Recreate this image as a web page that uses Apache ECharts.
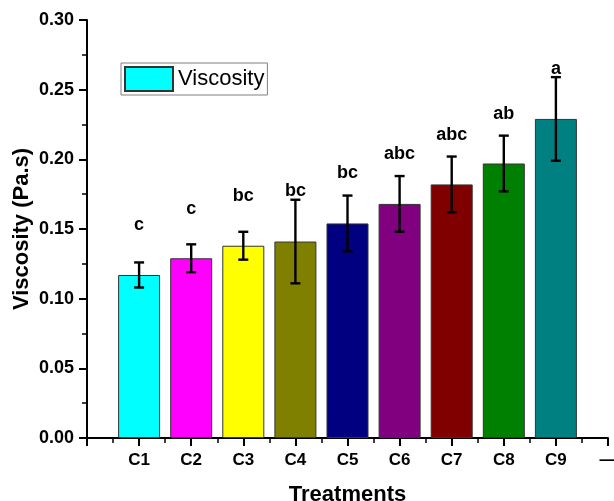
<!DOCTYPE html>
<html>
<head>
<meta charset="utf-8">
<script src="https://cdn.jsdelivr.net/npm/echarts@6/dist/echarts.min.js"></script>
<style>
  html, body { margin: 0; padding: 0; background: #fff; }
  #chart { width: 614px; height: 501px; }
</style>
</head>
<body>
<div id="chart"></div>
<script>
// Treatments and their mean viscosity (Pa.s) with standard deviations
const treatments = ['C1', 'C2', 'C3', 'C4', 'C5', 'C6', 'C7', 'C8', 'C9'];
const viscosity = [0.117, 0.129, 0.138, 0.141, 0.154, 0.168, 0.182, 0.197, 0.229];
const stdDev = [0.009, 0.010, 0.010, 0.030, 0.020, 0.020, 0.020, 0.020, 0.030];
// Significance letters and the height (in Pa.s) at which each is written
const groupLetters = ['c', 'c', 'bc', 'bc', 'bc', 'abc', 'abc', 'ab', 'a'];
const letterHeight = [0.153, 0.1645, 0.174, 0.177, 0.190, 0.204, 0.2177, 0.2328, 0.2649];
const barColors = ['#00FFFF', '#FF00FF', '#FFFF00', '#808000', '#000080', '#800080', '#800000', '#008000', '#008080'];
const yTicks = [0, 0.05, 0.10, 0.15, 0.20, 0.25, 0.30];
const endLabel = '\u2014';

const FONT = '"Liberation Sans", Arial, sans-serif';

const chart = echarts.init(document.getElementById('chart'));

const barData = viscosity.map((v, i) => ({
  value: [i + 1, v],
  itemStyle: { color: barColors[i] }
}));
const errData = viscosity.map((v, i) => [i + 1, v - stdDev[i], v + stdDev[i]]);
const letterData = groupLetters.map((t, i) => [i + 1, letterHeight[i], t]);

chart.setOption({
  animation: false,
  backgroundColor: '#fff',
  grid: { left: 87, right: 6, top: 20, bottom: 63, containLabel: false, outerBoundsMode: 'none' },
  legend: {
    left: 121, top: 63,
    orient: 'vertical',
    itemWidth: 48, itemHeight: 24,
    padding: [3, 3, 3, 3],
    borderColor: '#808080', borderWidth: 1,
    icon: 'rect',
    textStyle: { fontFamily: FONT, fontSize: 22, color: '#000' },
    data: ['Viscosity']
  },
  xAxis: {
    type: 'value',
    min: 0, max: 10, interval: 1,
    name: 'Treatments',
    nameLocation: 'middle',
    nameGap: 46,
    nameMoveOverlap: false,
    nameTextStyle: { fontFamily: FONT, fontSize: 22, fontWeight: 'bold', color: '#000' },
    axisLine: { show: true, lineStyle: { color: '#000', width: 2 } },
    axisTick: { show: true, length: 8, lineStyle: { color: '#000', width: 2 } },
    minorTick: { show: true, splitNumber: 2, length: 5, lineStyle: { color: '#000', width: 1.5 } },
    splitLine: { show: false },
    axisLabel: {
      margin: 14,
      fontFamily: FONT, fontSize: 17, fontWeight: 'bold', color: '#000',
      showMaxLabel: true, showMinLabel: true,
      formatter: v => {
        const k = Math.round(v);
        if (k >= 1 && k <= treatments.length) return treatments[k - 1];
        if (k === treatments.length + 1) return endLabel;
        return '';
      }
    }
  },
  yAxis: {
    type: 'value',
    min: yTicks[0], max: yTicks[yTicks.length - 1], interval: 0.05,
    name: 'Viscosity (Pa.s)',
    nameLocation: 'middle',
    nameGap: 54,
    nameMoveOverlap: false,
    nameTextStyle: { fontFamily: FONT, fontSize: 22, fontWeight: 'bold', color: '#000' },
    axisLine: { show: true, lineStyle: { color: '#000', width: 2 } },
    axisTick: { show: true, length: 8, lineStyle: { color: '#000', width: 2 } },
    minorTick: { show: true, splitNumber: 2, length: 5, lineStyle: { color: '#000', width: 1.5 } },
    splitLine: { show: false },
    axisLabel: {
      margin: 13,
      fontFamily: FONT, fontSize: 18, fontWeight: 'bold', color: '#000',
      formatter: v => v.toFixed(2)
    }
  },
  series: [
    {
      name: 'Viscosity',
      type: 'bar',
      barWidth: 42,
      itemStyle: { color: barColors[0], borderColor: '#333', borderWidth: 1 },
      data: barData,
      z: 2
    },
    {
      name: 'errors',
      type: 'custom',
      data: errData,
      z: 3,
      renderItem: (params, api) => {
        const x = api.value(0);
        const lo = api.coord([x, api.value(1)]);
        const hi = api.coord([x, api.value(2)]);
        const half = 5;
        const style = { stroke: '#000', lineWidth: 2.4 };
        return {
          type: 'group',
          children: [
            { type: 'line', shape: { x1: lo[0], y1: lo[1], x2: hi[0], y2: hi[1] }, style },
            { type: 'line', shape: { x1: hi[0] - half, y1: hi[1], x2: hi[0] + half, y2: hi[1] }, style },
            { type: 'line', shape: { x1: lo[0] - half, y1: lo[1], x2: lo[0] + half, y2: lo[1] }, style }
          ]
        };
      }
    },
    {
      name: 'letters',
      type: 'custom',
      data: letterData,
      z: 4,
      renderItem: (params, api) => {
        const p = api.coord([api.value(0), api.value(1)]);
        return {
          type: 'text',
          x: p[0], y: p[1],
          style: {
            text: letterData[params.dataIndex][2],
            fontFamily: FONT, fontSize: 18, fontWeight: 'bold', fill: '#000',
            align: 'center', verticalAlign: 'middle'
          }
        };
      }
    }
  ]
});
</script>
</body>
</html>
